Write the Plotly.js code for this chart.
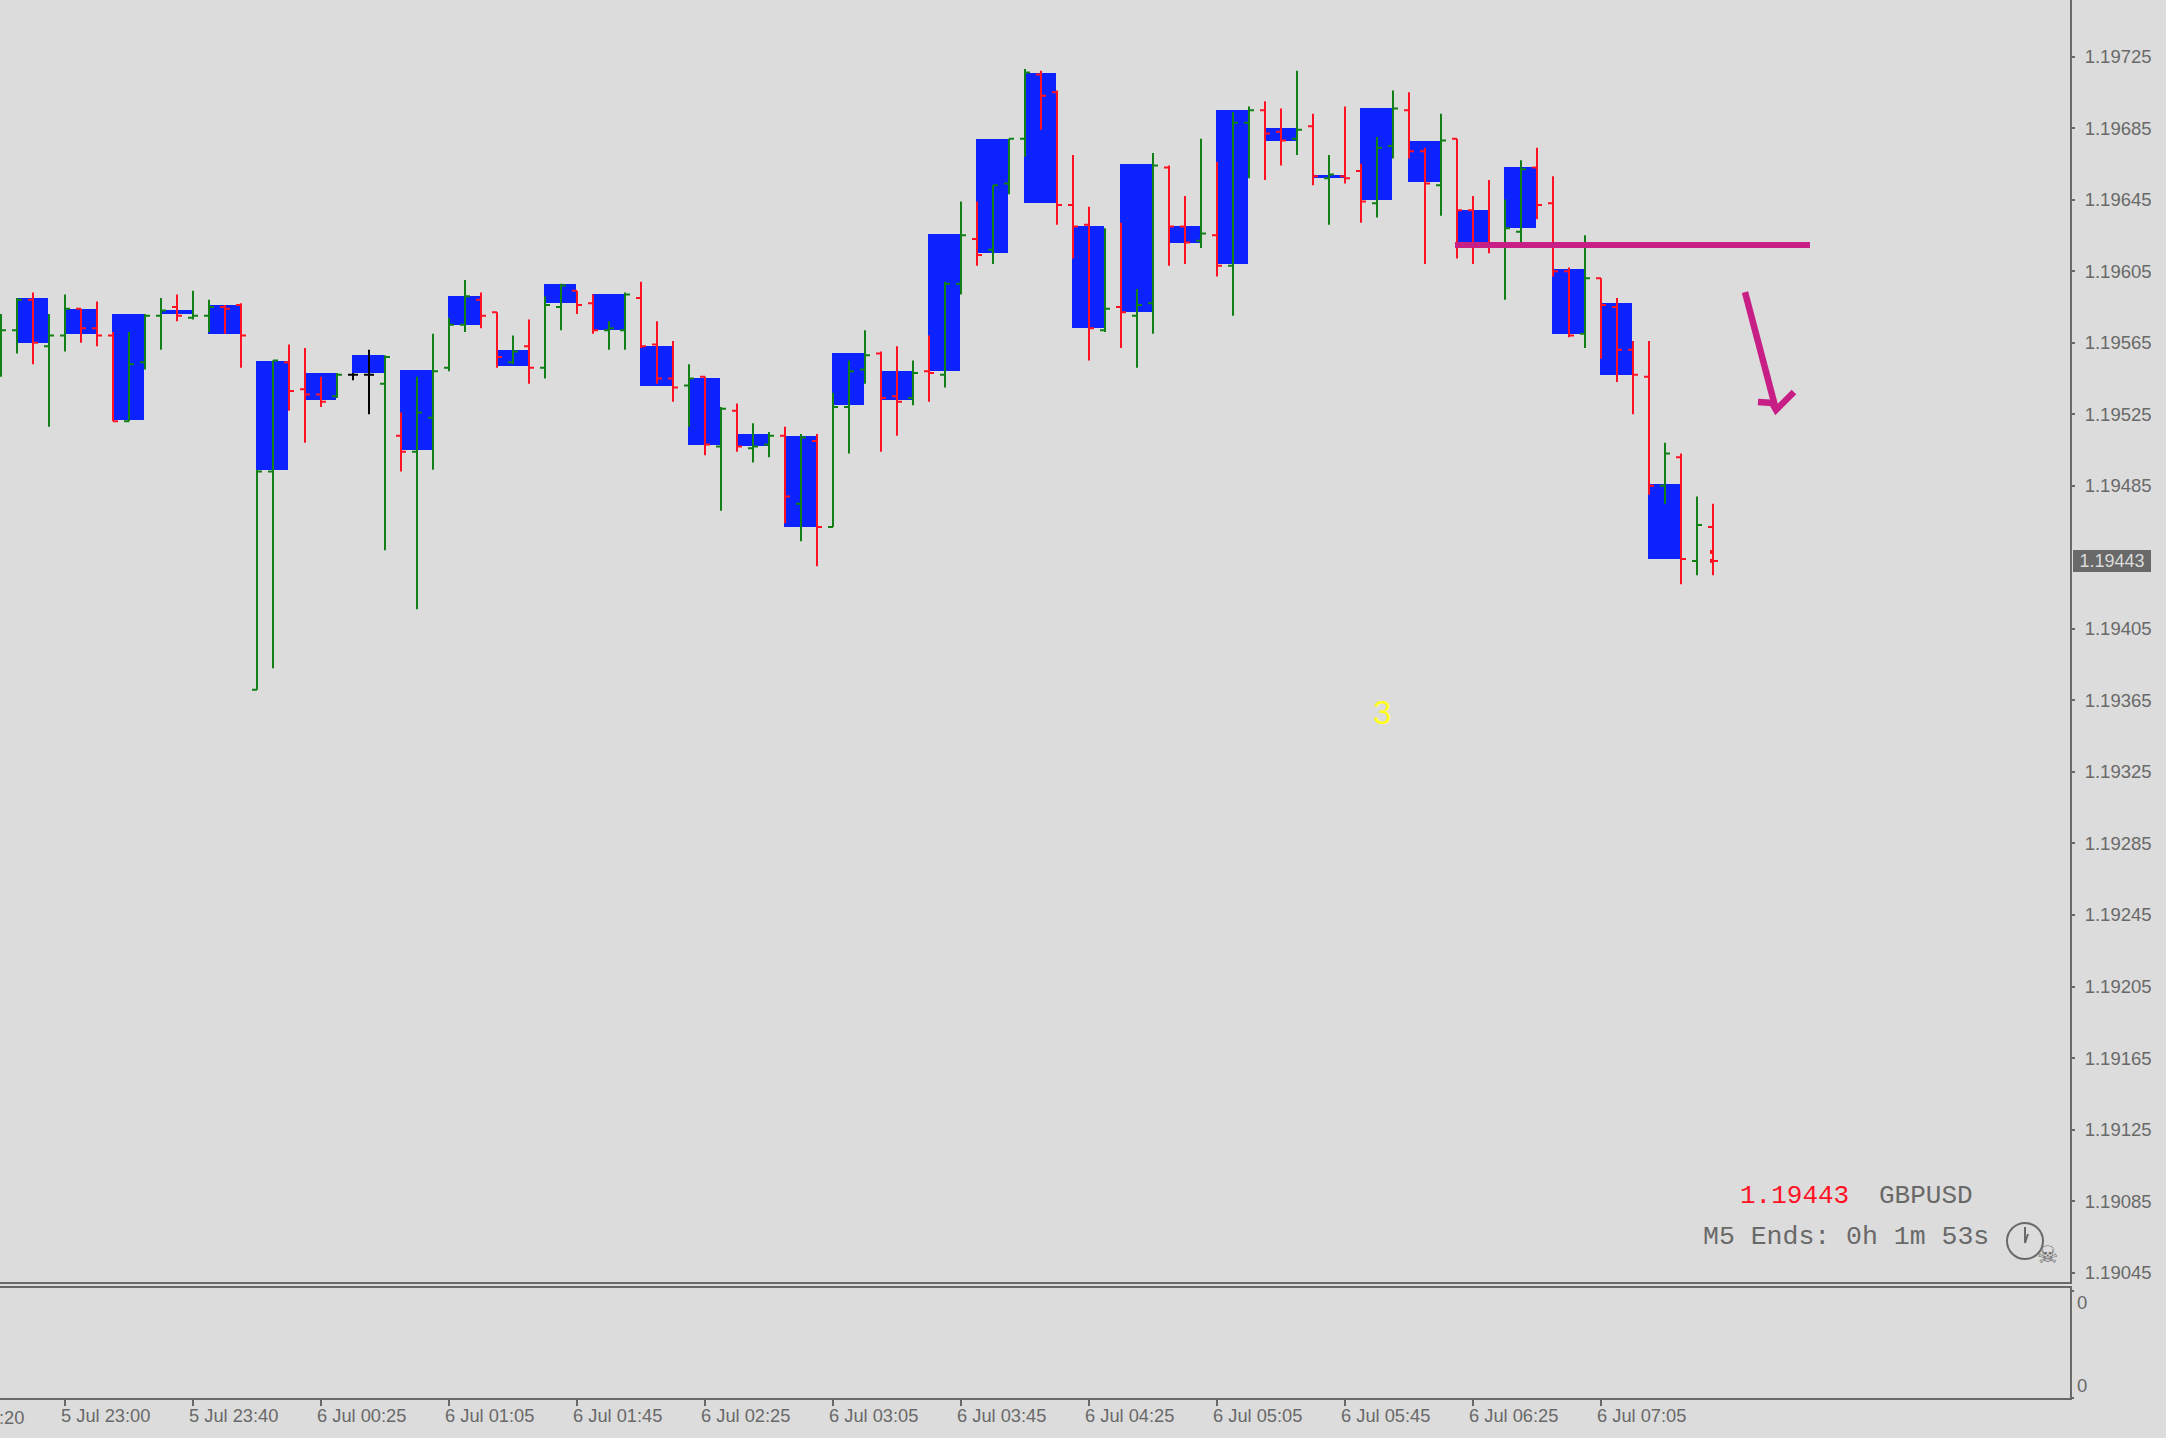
<!DOCTYPE html>
<html>
<head>
<meta charset="utf-8">
<script src="https://cdn.plot.ly/plotly-3.0.1.min.js"></script>
<style>html,body{margin:0;padding:0;background:#dcdcdc;overflow:hidden}</style>
</head>
<body>
<div id="chart" style="width:2166px;height:1438px"></div>
<script>
// M5 OHLC prices, oldest first
const opens = [1.19565,1.19572,1.19589,1.19563,1.19569,1.19584,1.19573,1.19569,1.19521,1.19554,1.19580,1.19585,1.19579,1.19580,1.19585,1.19586,
1.19371,1.19493,1.19554,1.19539,1.19536,1.19535,1.19547,1.19547,1.19542,1.19513,1.19504,1.19523,1.19551,1.19575,1.19589,1.19582,
1.19554,1.19563,1.19551,1.19585,1.19594,1.19587,1.19572,1.19572,1.19590,1.19564,1.19545,1.19541,1.19546,1.19507,1.19527,1.19506,
1.19508,1.19513,1.19475,1.19510,1.19462,1.19529,1.19550,1.19559,1.19535,1.19534,1.19549,1.19547,1.19598,1.19623,1.19617,1.19654,
1.19679,1.19715,1.19705,1.19642,1.19631,1.19572,1.19585,1.19580,1.19587,1.19663,1.19630,1.19622,1.19625,1.19608,1.19688,1.19695,
1.19683,1.19679,1.19686,1.19657,1.19658,1.19661,1.19643,1.19675,1.19695,1.19672,1.19653,1.19679,1.19639,1.19620,1.19620,1.19627,
1.19663,1.19643,1.19605,1.19570,1.19601,1.19585,1.19561,1.19546,1.19485,1.19501,1.19443,1.19462];
const highs = [1.19581,1.19590,1.19593,1.19581,1.19592,1.19584,1.19588,1.19571,1.19571,1.19581,1.19590,1.19592,1.19594,1.19589,1.19586,1.19587,
1.19494,1.19555,1.19564,1.19562,1.19546,1.19548,1.19548,1.19561,1.19558,1.19526,1.19546,1.19570,1.19579,1.19600,1.19593,1.19582,
1.19569,1.19578,1.19591,1.19598,1.19594,1.19592,1.19577,1.19593,1.19599,1.19577,1.19566,1.19553,1.19546,1.19529,1.19531,1.19520,
1.19515,1.19518,1.19514,1.19514,1.19537,1.19555,1.19572,1.19560,1.19563,1.19555,1.19569,1.19599,1.19644,1.19644,1.19653,1.19679,
1.19718,1.19717,1.19706,1.19670,1.19641,1.19629,1.19632,1.19595,1.19671,1.19664,1.19647,1.19679,1.19666,1.19694,1.19697,1.19700,
1.19696,1.19717,1.19693,1.19670,1.19697,1.19665,1.19680,1.19706,1.19705,1.19674,1.19693,1.19679,1.19647,1.19656,1.19645,1.19667,
1.19674,1.19658,1.19607,1.19625,1.19601,1.19590,1.19566,1.19566,1.19509,1.19503,1.19479,1.19475];
const lows = [1.19546,1.19559,1.19553,1.19518,1.19560,1.19565,1.19563,1.19521,1.19521,1.19550,1.19561,1.19577,1.19578,1.19571,1.19570,1.19551,
1.19371,1.19383,1.19527,1.19509,1.19529,1.19534,1.19544,1.19525,1.19449,1.19493,1.19416,1.19494,1.19549,1.19571,1.19573,1.19551,
1.19553,1.19542,1.19545,1.19572,1.19581,1.19570,1.19561,1.19561,1.19562,1.19542,1.19532,1.19518,1.19502,1.19471,1.19504,1.19498,
1.19501,1.19464,1.19454,1.19440,1.19462,1.19503,1.19542,1.19504,1.19513,1.19530,1.19532,1.19540,1.19592,1.19608,1.19609,1.19648,
1.19669,1.19684,1.19631,1.19612,1.19555,1.19571,1.19562,1.19551,1.19570,1.19608,1.19609,1.19618,1.19602,1.19580,1.19657,1.19656,
1.19664,1.19670,1.19653,1.19631,1.19654,1.19632,1.19635,1.19668,1.19668,1.19609,1.19636,1.19612,1.19609,1.19615,1.19589,1.19620,
1.19634,1.19602,1.19568,1.19562,1.19556,1.19543,1.19525,1.19480,1.19475,1.19430,1.19435,1.19435];
const closes = [1.19572,1.19589,1.19565,1.19569,1.19584,1.19573,1.19569,1.19521,1.19553,1.19580,1.19583,1.19580,1.19580,1.19585,1.19584,1.19569,
1.19493,1.19555,1.19538,1.19536,1.19532,1.19547,1.19547,1.19547,1.19557,1.19504,1.19526,1.19549,1.19575,1.19591,1.19580,1.19557,
1.19560,1.19551,1.19586,1.19597,1.19586,1.19572,1.19573,1.19592,1.19563,1.19545,1.19540,1.19545,1.19508,1.19528,1.19507,1.19507,
1.19513,1.19479,1.19512,1.19462,1.19529,1.19549,1.19558,1.19534,1.19532,1.19548,1.19548,1.19598,1.19625,1.19614,1.19653,1.19679,
1.19716,1.19703,1.19642,1.19630,1.19573,1.19584,1.19582,1.19586,1.19664,1.19630,1.19621,1.19626,1.19608,1.19688,1.19695,1.19682,
1.19678,1.19684,1.19658,1.19659,1.19657,1.19644,1.19674,1.19696,1.19672,1.19654,1.19678,1.19639,1.19620,1.19620,1.19629,1.19662,
1.19642,1.19605,1.19569,1.19601,1.19586,1.19561,1.19547,1.19485,1.19503,1.19444,1.19463,1.19443];
// The two unchanged bars the reference draws in black
const flatIndex = [22, 23];
// M15 candle bodies: one for every three M5 bars, starting at bar 1
const bodyTop = [1.19590,1.19584,1.19581,1.19583,1.19586,1.19555,1.19548,1.19558,1.19550,1.19591,1.19561,1.19598,1.19592,1.19563,1.19545,1.19514,1.19513,1.19559,
1.19549,1.19626,1.19679,1.19716,1.19630,1.19665,1.19630,1.19695,1.19685,1.19659,1.19696,1.19678,1.19639,1.19663,1.19606,1.19587,1.19486];
const bodyBottom = [1.19565,1.19570,1.19522,1.19581,1.19570,1.19494,1.19533,1.19548,1.19505,1.19575,1.19552,1.19587,1.19572,1.19541,1.19508,1.19507,1.19462,1.19530,
1.19533,1.19549,1.19615,1.19643,1.19573,1.19582,1.19621,1.19609,1.19678,1.19657,1.19645,1.19655,1.19620,1.19629,1.19570,1.19547,1.19444];
// Hand-drawn trend line and arrow (bar index, price)
const trendX = [90.875, 113.06];
const trendY = [1.196196, 1.196196];
const arrowX = [109.0, 110.94, null, 109.81, 110.69, 110.94, 112.06];
const arrowY = [1.195933, 1.195274, null, 1.195318, 1.195313, 1.195274, 1.195374];
const stubX = [106.81, 107, null, 106.81, 107];
const stubY = [1.19448, 1.19448, null, 1.19443, 1.19443];
// Axis labels
const priceTicks = [1.19045,1.19085,1.19125,1.19165,1.19205,1.19245,1.19285,1.19325,1.19365,1.19405,1.19485,1.19525,1.19565,1.19605,1.19645,1.19685,1.19725];
const timeTickIndex = [4,12,20,28,36,44,52,60,68,76,84,92,100];
const timeTickText = ['5 Jul 23:00','5 Jul 23:40','6 Jul 00:25','6 Jul 01:05','6 Jul 01:45','6 Jul 02:25','6 Jul 03:05','6 Jul 03:45','6 Jul 04:25','6 Jul 05:05','6 Jul 05:45','6 Jul 06:25','6 Jul 07:05'];
const lastPrice = 1.19443;

const RED='#ff1224', GREEN='#118017', BLUE='#0c23ff', MAGENTA='#c71f85', GREY='#696969', BG='#dcdcdc';
const SANS='"Liberation Sans", Arial, sans-serif', MONO='"Liberation Mono", monospace';
const W=2070, H=1398;
const px=(x)=>x/W, py=(y)=>1-y/H;

const idx = opens.map((_,i)=>i);
const normal = idx.filter(i=>!flatIndex.includes(i));
const pick=(a,ii)=>ii.map(i=>a[i]);
const bodyX = bodyTop.map((_,n)=>2+3*n);

const traces = [
 {type:'bar', x:bodyX, base:bodyBottom, y:bodyTop.map((t,i)=>t-bodyBottom[i]), width:2, offset:-1.0625,
  marker:{color:BLUE,line:{width:0}}, hoverinfo:'skip', xaxis:'x', yaxis:'y'},
 {type:'ohlc', x:normal, open:pick(opens,normal), high:pick(highs,normal), low:pick(lows,normal), close:pick(closes,normal),
  tickwidth:0.3125, increasing:{line:{color:GREEN,width:2}}, decreasing:{line:{color:RED,width:2}}, xaxis:'x', yaxis:'y'},
 {type:'ohlc', x:flatIndex, open:pick(opens,flatIndex), high:pick(highs,flatIndex), low:pick(lows,flatIndex), close:pick(closes,flatIndex),
  tickwidth:0.3125, increasing:{line:{color:'#000000',width:2}}, decreasing:{line:{color:'#000000',width:2}}, xaxis:'x', yaxis:'y'},
 {type:'scatter', mode:'lines', x:stubX, y:stubY, line:{color:RED,width:4}, hoverinfo:'skip', xaxis:'x', yaxis:'y'},
 {type:'scatter', mode:'lines', x:trendX, y:trendY, line:{color:MAGENTA,width:6}, hoverinfo:'skip', xaxis:'x', yaxis:'y'},
 {type:'scatter', mode:'lines', x:arrowX, y:arrowY, line:{color:MAGENTA,width:6.5}, hoverinfo:'skip', xaxis:'x', yaxis:'y'},
 // lower, empty pane
 {type:'scatter', mode:'lines', x:[0], y:[0], line:{color:BG,width:0}, hoverinfo:'skip', xaxis:'x2', yaxis:'y2'}
];

const xRange=[-0.0625,129.3125];
const note=(text,x,y,color,size,family,extra)=>Object.assign({text,xref:'paper',yref:'paper',x:px(x),y:py(y),
  xanchor:'left',yanchor:'middle',showarrow:false,font:{color,size,family}},extra||{});

const layout = {
 width:2166,height:1438,
 margin:{l:0,r:96,t:0,b:40,pad:0},
 paper_bgcolor:BG,plot_bgcolor:BG,showlegend:false,hovermode:false,dragmode:false,bargap:0,
 font:{family:SANS,color:GREY,size:18.5},
 xaxis:{domain:[0,1],range:xRange,anchor:'y',showgrid:false,zeroline:false,showticklabels:false,ticks:'',
   showline:true,linecolor:GREY,linewidth:2,rangeslider:{visible:false},fixedrange:true},
 yaxis:{domain:[(H-1282)/H,1],range:[1.190398,1.197566],anchor:'x',side:'right',showgrid:false,zeroline:false,
   tickmode:'array',tickvals:priceTicks,ticktext:priceTicks.map(v=>v.toFixed(5)),ticks:'outside',ticklen:3,tickwidth:2,tickcolor:GREY,
   ticklabelstandoff:6,showline:true,linecolor:GREY,linewidth:2,tickfont:{size:18.5,color:GREY,family:SANS},fixedrange:true},
 xaxis2:{domain:[0,1],range:xRange,anchor:'y2',showgrid:false,zeroline:false,mirror:true,
   tickmode:'array',tickvals:timeTickIndex,ticktext:timeTickText,ticks:'outside',ticklen:6,tickwidth:2,tickcolor:GREY,
   ticklabelposition:'outside right',ticklabelshift:-6,tickangle:0,
   showline:true,linecolor:GREY,linewidth:2,tickfont:{size:18.3,color:GREY,family:SANS},fixedrange:true},
 yaxis2:{domain:[0,(H-1288)/H],range:[0,1],anchor:'x2',side:'right',showgrid:false,zeroline:false,showticklabels:false,
   tickmode:'array',tickvals:[0,0.97],ticks:'outside',ticklen:2,tickwidth:2,tickcolor:GREY,
   showline:true,linecolor:GREY,linewidth:2,fixedrange:true},
 annotations:[
  {text:lastPrice.toFixed(5),xref:'paper',yref:'y',x:px(2112),y:lastPrice,xanchor:'center',yanchor:'middle',showarrow:false,
   bgcolor:GREY,width:78,height:22,borderpad:0,borderwidth:0,font:{color:BG,size:18,family:SANS}},
  note(':20',-3,1417,GREY,18.3,SANS),
  note('0',2075,1302,GREY,18.5,SANS),
  note('0',2075,1385,GREY,18.5,SANS),
  note('3',1371,712,'#ffff20',33,SANS),
  note(lastPrice.toFixed(5),1738,1196,'#ff1224',26,MONO),
  note('GBPUSD',1877,1196,GREY,26,MONO),
  note('M5 Ends: 0h 1m 53s',1701,1237,GREY,26.5,MONO),
  note('\u2620',2035,1255,GREY,24,'"DejaVu Sans"')
 ],
 shapes:[
  {type:'circle',xref:'paper',yref:'paper',x0:px(2007),x1:px(2043),y0:py(1223),y1:py(1259),line:{color:GREY,width:2}},
  {type:'line',xref:'paper',yref:'paper',x0:px(2025),x1:px(2025),y0:py(1227),y1:py(1243),line:{color:GREY,width:2}},
  {type:'line',xref:'paper',yref:'paper',x0:px(2025),x1:px(2028),y0:py(1243),y1:py(1234),line:{color:GREY,width:2}}
 ]
};
Plotly.newPlot('chart',traces,layout,{displayModeBar:false,staticPlot:true});
</script>
</body>
</html>
